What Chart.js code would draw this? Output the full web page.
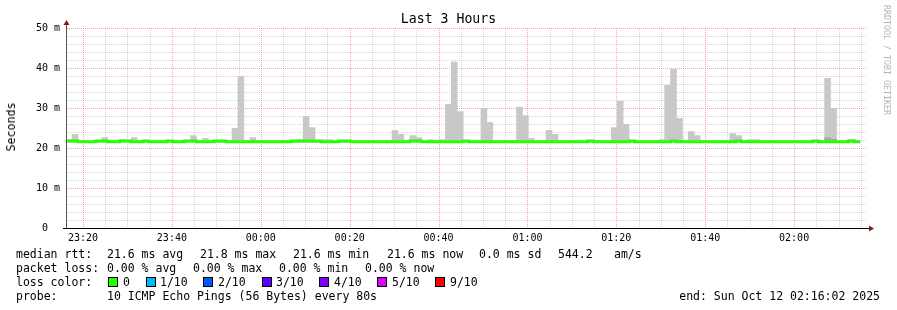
<!DOCTYPE html>
<html>
<head>
<meta charset="utf-8">
<script src="https://cdn.jsdelivr.net/npm/chart.js@4.4.0/dist/chart.umd.min.js"></script>
<style>
  body { margin: 0; background: #fff; }
  #wrap { position: relative; width: 897px; height: 310px; overflow: hidden; font-family: 'DejaVu Sans Mono', monospace; color: #000; }
  #chart { position: absolute; left: 0; top: 0; }
  .txt { position: absolute; white-space: pre; font-size: 11.5px; line-height: 14px; }
  #title { position: absolute; left: 0; width: 897px; top: 12px; text-align: center; font-size: 13.2px; line-height: 14px; }
  #ylab { position: absolute; left: 11px; top: 127px; font-size: 11.6px; line-height: 14px; transform: translate(-50%, -50%) rotate(-90deg); white-space: pre; }
  #mark { position: absolute; left: 882px; top: 5px; writing-mode: vertical-rl; font-size: 8.3px; line-height: 9px; color: #b4b4b4; white-space: pre; }
  .box { position: absolute; width: 8px; height: 8px; border: 1px solid #000; }
</style>
</head>
<body>
<div id="wrap">
  <canvas id="chart" width="897" height="310"></canvas>
  <div id="title">Last 3 Hours</div>
  <div id="ylab">Seconds</div>
  <div id="mark">RRDTOOL / TOBI OETIKER</div>
  <div class="txt" style="right:17px; top:289px;">end: Sun Oct 12 02:16:02 2025</div>
</div>
<script>
// x values are minutes after 23:00, one bin = one 80 s probe round
const xMin = 16.4;
const xMax = 196.4;
const firstBinStart = 16.2;
const binMinutes = 80 / 60;

const xLabels = ['23:20', '23:40', '00:00', '00:20', '00:40', '01:00', '01:20', '01:40', '02:00'];
const xLabelMinutes = [20, 40, 60, 80, 100, 120, 140, 160, 180];
const yLabels = ['0  ', '10 m', '20 m', '30 m', '40 m', '50 m'];
const yLabelValues = [0, 10, 20, 30, 40, 50];

// smoke (max rtt per round, ms), 134 rounds
const smokeTop = [
  22.1, 23.4, 21.8, 21.8, 21.8, 21.8, 22.6, 21.8, 21.8, 22.1, 21.8, 22.6,
  21.8, 21.8, 21.8, 21.8, 21.8, 21.8, 21.8, 21.8, 21.8, 23.1, 21.8, 22.4,
  21.8, 21.8, 21.8, 21.8, 24.9, 37.9, 21.8, 22.6, 21.8, 21.8, 21.8, 21.8,
  21.8, 21.8, 21.8, 22.1, 27.9, 25.1, 21.8, 22.1, 22.1, 21.8, 21.8, 21.8,
  21.8, 21.8, 21.8, 21.8, 21.8, 21.8, 21.8, 24.4, 23.4, 21.8, 23.1, 22.6,
  21.8, 22.1, 22.0, 22.1, 30.9, 41.5, 29.1, 21.8, 21.8, 21.8, 29.9, 26.4,
  21.8, 21.8, 21.8, 21.8, 30.2, 28.1, 22.4, 21.8, 21.8, 24.4, 23.4, 21.8,
  21.8, 21.8, 21.8, 21.8, 21.8, 21.8, 21.8, 21.8, 25.1, 31.7, 25.9, 21.8,
  21.8, 21.8, 21.8, 21.8, 22.1, 35.7, 39.7, 27.4, 21.8, 24.1, 23.1, 21.8,
  21.8, 21.8, 21.8, 21.8, 23.6, 23.1, 21.8, 22.1, 22.1, 21.8, 21.8, 21.8,
  21.8, 21.8, 21.8, 21.8, 21.8, 21.8, 21.8, 21.8, 37.4, 29.9, 21.8, 21.8,
  22.1, 21.8
];
// darker smoke where several pings overlap
const smokeDarkTop = new Array(134).fill(null);
smokeDarkTop[128] = 22.6;
smokeDarkTop[129] = 22.2;
const smokeFloor = 21.4;

// median rtt per round (ms)
const median = [
  21.75, 21.75, 21.55, 21.55, 21.55, 21.75, 21.75, 21.55, 21.55, 21.75, 21.75, 21.55,
  21.55, 21.75, 21.55, 21.55, 21.55, 21.75, 21.55, 21.55, 21.75, 21.75, 21.55, 21.55,
  21.55, 21.75, 21.75, 21.55, 21.55, 21.55, 21.55, 21.55, 21.55, 21.55, 21.55, 21.55,
  21.55, 21.55, 21.75, 21.75, 21.75, 21.75, 21.75, 21.55, 21.55, 21.55, 21.75, 21.75,
  21.55, 21.55, 21.55, 21.55, 21.55, 21.55, 21.55, 21.55, 21.55, 21.55, 21.75, 21.75,
  21.55, 21.55, 21.55, 21.55, 21.55, 21.55, 21.55, 21.75, 21.55, 21.55, 21.55, 21.55,
  21.55, 21.55, 21.55, 21.55, 21.55, 21.55, 21.55, 21.55, 21.55, 21.55, 21.55, 21.55,
  21.55, 21.55, 21.55, 21.55, 21.75, 21.55, 21.55, 21.55, 21.55, 21.55, 21.55, 21.75,
  21.55, 21.55, 21.55, 21.55, 21.55, 21.55, 21.75, 21.55, 21.55, 21.55, 21.55, 21.55,
  21.55, 21.55, 21.55, 21.55, 21.55, 21.75, 21.55, 21.55, 21.55, 21.55, 21.55, 21.55,
  21.55, 21.55, 21.55, 21.55, 21.55, 21.55, 21.75, 21.55, 21.55, 21.55, 21.55, 21.55,
  21.75, 21.55
];

const lossLabels = ['0', '1/10', '2/10', '3/10', '4/10', '5/10', '9/10'];
const lossColors = ['#26ff00', '#00b8ff', '#0059ff', '#5e00ff', '#7e00ff', '#dd00ff', '#ff0000'];

// legend text rows: [text, left px]
const legendRows = [
  [['median rtt:', 16], ['21.6 ms avg', 107], ['21.8 ms max', 200], ['21.6 ms min', 293],
   ['21.6 ms now', 387], ['0.0 ms sd', 479], ['544.2', 558], ['am/s', 614]],
  [['packet loss:', 16], ['0.00 % avg', 107], ['0.00 % max', 193], ['0.00 % min', 279], ['0.00 % now', 365]],
  [['loss color:', 16]],
  [['probe:', 16], ['10 ICMP Echo Pings (56 Bytes) every 80s', 107]]
];
const lossBoxX = [108, 146, 203, 262, 319, 377, 435];
const lossLabelX = [123, 160, 218, 276, 334, 392, 450];

const wrap = document.getElementById('wrap');
const addText = (text, left, top) => {
  const d = document.createElement('div');
  d.className = 'txt';
  d.style.left = left + 'px';
  d.style.top = top + 'px';
  d.textContent = text;
  wrap.appendChild(d);
};
legendRows.forEach((row, r) => row.forEach(([t, x]) => addText(t, x, 247 + r * 14)));
lossLabels.forEach((lab, i) => {
  const b = document.createElement('div');
  b.className = 'box';
  b.style.left = lossBoxX[i] + 'px';
  b.style.top = '277px';
  b.style.background = lossColors[i];
  wrap.appendChild(b);
  addText(lab, lossLabelX[i], 275);
});

const binCenter = i => firstBinStart + (i + 0.5) * binMinutes;
const smokeData = smokeTop.map((v, i) => ({ x: binCenter(i), y: [smokeFloor, v] }));
const smokeDarkData = smokeDarkTop
  .map((v, i) => (v === null ? null : { x: binCenter(i), y: [smokeFloor, v] }))
  .filter(d => d);
const medianData = median.map((v, i) => ({ x: firstBinStart + i * binMinutes, y: v }));
medianData.push({ x: firstBinStart + median.length * binMinutes, y: median[median.length - 1] });

const fmtTime = v => {
  const idx = xLabelMinutes.indexOf(v);
  return idx >= 0 ? xLabels[idx] : '';
};

const majorGrid = 'rgba(240,60,60,0.45)';
const minorGrid = 'rgba(150,150,150,0.4)';

// rrdtool style dotted grid, positions from the chart scales
const gridPlugin = {
  id: 'rrdGrid',
  beforeDatasetsDraw(chart) {
    const { ctx, chartArea: a, scales: { x, y } } = chart;
    ctx.save();
    ctx.lineWidth = 1;
    ctx.setLineDash([1, 1]);
    const vline = (m, col) => {
      const px = Math.round(x.getPixelForValue(m)) + 0.5;
      ctx.strokeStyle = col;
      ctx.beginPath();
      ctx.moveTo(px, a.top);
      ctx.lineTo(px, a.bottom);
      ctx.stroke();
    };
    const hline = (v, col) => {
      const py = Math.round(y.getPixelForValue(v)) + 0.5;
      ctx.strokeStyle = col;
      ctx.beginPath();
      ctx.moveTo(a.left, py);
      ctx.lineTo(a.right, py);
      ctx.stroke();
    };
    for (let m = 20; m < xMax; m += 5) if (!xLabelMinutes.includes(m)) vline(m, minorGrid);
    for (let v = 2; v <= 50; v += 2) if (!yLabelValues.includes(v)) hline(v, minorGrid);
    xLabelMinutes.forEach(m => vline(m, majorGrid));
    yLabelValues.forEach(v => { if (v > 0) hline(v, majorGrid); });
    ctx.restore();
  }
};

// axis lines and arrows, drawn above the data
const axisPlugin = {
  id: 'rrdAxes',
  afterDraw(chart) {
    const { ctx, chartArea: a } = chart;
    ctx.save();
    ctx.strokeStyle = '#000';
    ctx.lineWidth = 1;
    ctx.beginPath();
    ctx.moveTo(63, Math.round(a.bottom) + 0.5);
    ctx.lineTo(a.right + 2, Math.round(a.bottom) + 0.5);
    ctx.stroke();
    ctx.strokeStyle = '#555';
    ctx.beginPath();
    ctx.moveTo(a.left - 0.5, a.top - 3);
    ctx.lineTo(a.left - 0.5, a.bottom);
    ctx.stroke();
    ctx.fillStyle = '#8b1a1a';
    ctx.beginPath();
    ctx.moveTo(a.left - 0.5, a.top - 8);
    ctx.lineTo(a.left - 3.5, a.top - 3);
    ctx.lineTo(a.left + 2.5, a.top - 3);
    ctx.closePath();
    ctx.fill();
    ctx.beginPath();
    ctx.moveTo(a.right + 7, a.bottom + 0.5);
    ctx.lineTo(a.right + 2, a.bottom - 2.5);
    ctx.lineTo(a.right + 2, a.bottom + 3.5);
    ctx.closePath();
    ctx.fill();
    ctx.restore();
  }
};

new Chart(document.getElementById('chart'), {
  type: 'bar',
  data: {
    datasets: [
      {
        type: 'line',
        data: medianData,
        borderColor: lossColors[0],
        borderWidth: 3,
        stepped: true,
        pointRadius: 0,
        fill: false,
        order: 0
      },
      {
        data: smokeDarkData,
        backgroundColor: '#a8a8a8',
        borderWidth: 0,
        grouped: false,
        barPercentage: 1,
        categoryPercentage: 1,
        order: 1
      },
      {
        data: smokeData,
        backgroundColor: '#c8c8c8',
        borderWidth: 0,
        grouped: false,
        barPercentage: 1,
        categoryPercentage: 1,
        order: 2
      }
    ]
  },
  options: {
    responsive: false,
    devicePixelRatio: 1,
    animation: false,
    layout: { padding: { top: 28, right: 30, left: 0, bottom: 0 } },
    plugins: { legend: { display: false }, tooltip: { enabled: false }, title: { display: false } },
    scales: {
      x: {
        type: 'linear',
        offset: false,
        min: xMin,
        max: xMax,
        afterFit: s => { s.height = 82; },
        afterBuildTicks: s => {
          s.ticks = xLabelMinutes.map(m => ({ value: m }));
        },
        ticks: {
          autoSkip: false,
          maxRotation: 0,
          padding: 4,
          color: '#000',
          font: { family: 'DejaVu Sans Mono', size: 10 },
          callback: v => fmtTime(v)
        },
        grid: { display: false, drawTicks: false },
        border: { display: false }
      },
      y: {
        min: 0,
        max: 50,
        afterFit: s => { s.width = 67; },
        afterBuildTicks: s => {
          s.ticks = yLabelValues.map(v => ({ value: v }));
        },
        ticks: {
          autoSkip: false,
          padding: 7,
          color: '#000',
          font: { family: 'DejaVu Sans Mono', size: 10 },
          callback: v => {
            const idx = yLabelValues.indexOf(v);
            return idx >= 0 ? yLabels[idx] : '';
          }
        },
        grid: { display: false, drawTicks: false },
        border: { display: false }
      }
    }
  },
  plugins: [gridPlugin, axisPlugin]
});
</script>
</body>
</html>
